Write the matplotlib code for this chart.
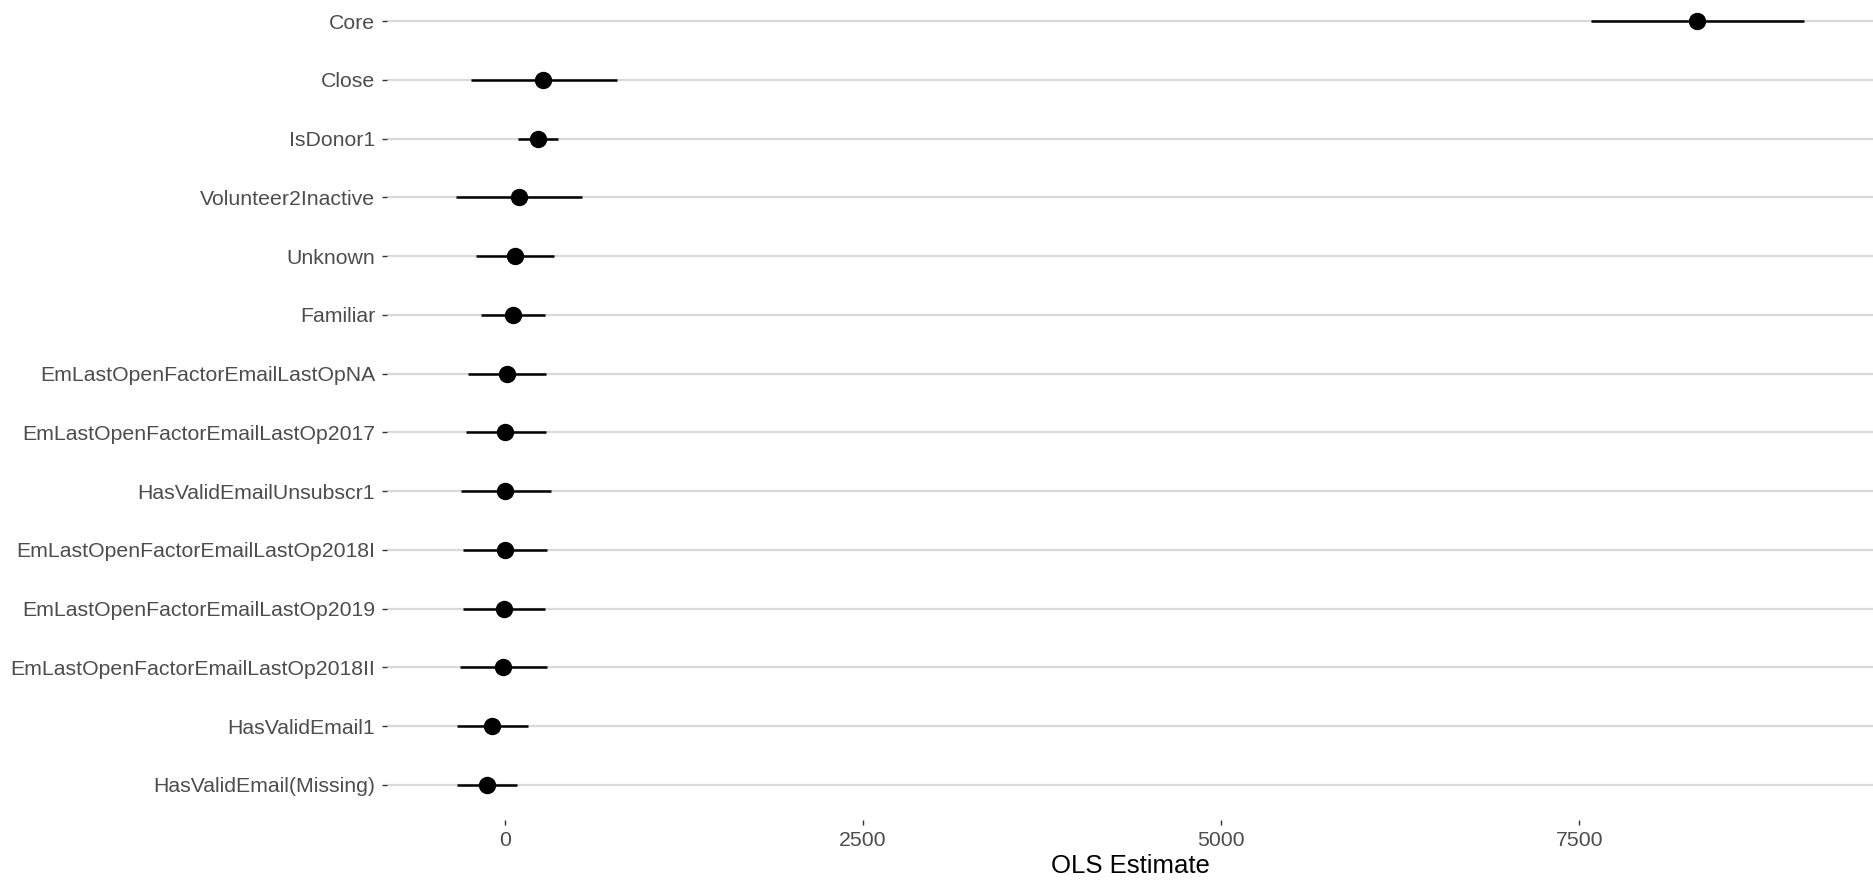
import matplotlib
matplotlib.use("Agg")
import matplotlib.pyplot as plt

plt.rcParams['font.family'] = ['Liberation Sans', 'DejaVu Sans']

# coefficient names, top to bottom
terms = [
    "Core", "Close", "IsDonor1", "Volunteer2Inactive", "Unknown", "Familiar",
    "EmLastOpenFactorEmailLastOpNA", "EmLastOpenFactorEmailLastOp2017",
    "HasValidEmailUnsubscr1", "EmLastOpenFactorEmailLastOp2018I",
    "EmLastOpenFactorEmailLastOp2019", "EmLastOpenFactorEmailLastOp2018II",
    "HasValidEmail1", "HasValidEmail(Missing)",
]
estimate = [8322, 270, 230, 100, 70, 58, 14, 4, 4, 4, -7, -12, -87, -126]
ci_low = [7582, -237, 91, -340, -202, -165, -258, -270, -307, -289, -293, -314, -333, -333]
ci_high = [9066, 782, 374, 542, 346, 281, 286, 286, 321, 297, 281, 293, 163, 86]

xticks = [0, 2500, 5000, 7500]

W, H = 1874, 886
fig = plt.figure(figsize=(W / 100, H / 100), dpi=100)
ax = fig.add_axes([387 / W, (H - 820) / H, (1874 - 387) / W, 820 / H])

ypos = list(range(len(terms)))
for y in ypos:
    ax.axhline(y, color='#DADADA', lw=1.6, zorder=0)

ax.hlines(ypos, ci_low, ci_high, color='black', lw=1.8, zorder=2)
ax.plot(estimate, ypos, 'o', color='black', ms=11.5, zorder=3)

ax.set_xlim(-821, 9558)
ax.set_ylim(len(terms) - 0.4, 1 - 21 / 58.75 - 1)
ax.set_yticks(ypos)
ax.set_yticklabels(terms)
ax.set_xticks(xticks)
ax.set_xticklabels([str(t) for t in xticks])

for s in ax.spines.values():
    s.set_visible(False)
ax.tick_params(axis='both', colors='#333333', labelcolor='#4D4D4D',
               labelsize=15.3, length=3.6, width=1.0, pad=5)
ax.tick_params(axis='x', pad=4)
ax.set_xlabel("OLS Estimate", fontsize=18.5, color='black', labelpad=3)

fig.savefig("out.png", dpi=100)
